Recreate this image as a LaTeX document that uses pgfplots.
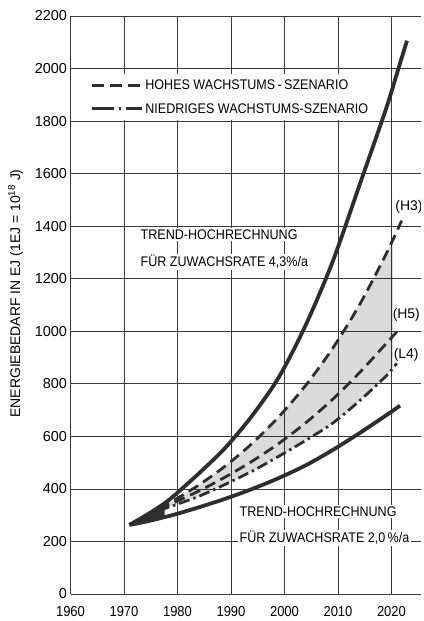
\documentclass[border=0pt]{standalone}
\usepackage{fontspec}
\setmainfont{Liberation Sans}
\newfontfamily\lettering[FakeStretch=0.9]{Liberation Sans}
\usepackage{pgfplots}
\pgfplotsset{compat=1.18}
\usepgfplotslibrary{fillbetween}
\newcommand\lt{\lettering\fontsize{14}{15}\selectfont}
\definecolor{ink}{HTML}{2E2E2E}
\definecolor{gridc}{HTML}{3A3A3A}

\pgfplotstableread{
x y
1971 263
1974 298
1977 337
1979 368
1984 459
1989 558
1994 680
1999 827
2004 1025
2009 1265
2014 1555
2019 1848
2021.3 2000
2022.9 2106
}\tabU
\pgfplotstableread{
x y
1971 263
1974 275
1979 300
1984 330
1989 363
1994 400
1999 442
2004 490
2009 548
2014 612
2019 680
2021.6 717
}\tabL
\pgfplotstableread{
x y
1976.5 330
1979 353
1984 415
1989 488
1994 574
1999 676
2004 795
2009 935
2014 1100
2019 1294
2021.9 1421
}\tabHthree
\pgfplotstableread{
x y
1976.5 326
1979 345
1984 392
1989 446
1994 506
1999 574
2004 652
2009 741
2014 842
2019 953
2021.3 1005
}\tabHfive
\pgfplotstableread{
x y
1976.5 318
1979 335
1984 372
1989 418
1994 468
1999 525
2004 585
2009 650
2014 735
2019 830
2021 878
}\tabLfour

\begin{document}
\begin{tikzpicture}
\begin{axis}[
  scale only axis, width=350.4bp, height=578bp,
  xmin=1960, xmax=2025.5, ymin=0, ymax=2200,
  axis lines=left, axis line style={gridc, line width=0.8bp, -},
  xtick={1960,1970,...,2020}, ytick={0,200,...,2200},
  major tick length=0pt,
  grid=major, major grid style={gridc, line width=0.7bp},
  /pgf/number format/1000 sep={},
  /pgf/number format/assume math mode=true,
  xticklabel style={font=\lettering\fontsize{14.5}{14}\selectfont, yshift=-9bp},
  yticklabel style={font=\fontsize{14.5}{14}\selectfont},
  ylabel={ENERGIEBEDARF IN EJ (1EJ = 10\textsuperscript{18} J)},
  ylabel style={font=\fontsize{14}{15}\selectfont, at={(axis description cs:-0.157,0.52)}, anchor=center},
  legend style={at={(axis cs:1963.64,1979)}, anchor=north west, draw=none, fill=white,
    inner xsep=0bp, inner ysep=4bp, row sep=10bp, font=\lt,
    nodes={inner sep=2bp, text depth=0pt}},
  legend cell align=left,
  legend image code/.code={\draw[#1] (0bp,0bp) -- (50bp,0bp);},
]
\addlegendimage{ink, line width=3.2bp, dash pattern=on 12bp off 6bp}
\addlegendentry{HOHES WACHSTUMS\,-\,SZENARIO}
\addlegendimage{ink, line width=3.2bp, dash pattern=on 22bp off 5bp on 2.5bp off 5bp}
\addlegendentry{NIEDRIGES WACHSTUMS-SZENARIO}

% invisible polyline copies for the filled areas
\addplot[draw=none, name path=Uf, forget plot] table {\tabU};
\addplot[draw=none, name path=Lf, forget plot] table {\tabL};
\addplot[draw=none, name path=H3f, forget plot] table {\tabHthree};
\addplot[draw=none, name path=L4f, forget plot] table {\tabLfour};

\addplot[fill=black, fill opacity=0.14, draw=none, forget plot] fill between[of=H3f and L4f, soft clip={domain=1976.5:2020.3}];
\addplot[fill=ink, draw=none, forget plot] fill between[of=Uf and Lf, soft clip={domain=1971:1977.6}];

\addplot[ink, line width=3.8bp, smooth, forget plot] table {\tabU};
\addplot[ink, line width=3.8bp, smooth, forget plot] table {\tabL};
\addplot[ink, line width=2.8bp, smooth, dash pattern=on 11bp off 6bp, forget plot] table {\tabHthree};
\addplot[ink, line width=2.8bp, smooth, dash pattern=on 11bp off 6bp, forget plot] table {\tabHfive};
\addplot[ink, line width=2.8bp, smooth, dash pattern=on 11bp off 4bp on 2.5bp off 4bp, forget plot] table {\tabLfour};

\node[anchor=west, fill=white, inner sep=1.5bp, font=\lt] at (axis cs:1972.8,1367) {TREND-HOCHRECHNUNG};
\node[anchor=west, fill=white, inner sep=1.5bp, font=\lt] at (axis cs:1972.8,1264) {FÜR ZUWACHSRATE 4,3\%/a};
\node[anchor=west, fill=white, inner sep=1.5bp, font=\lt] at (axis cs:1991.3,313) {TREND-HOCHRECHNUNG};
\node[anchor=west, fill=white, inner sep=1.5bp, font=\lt] at (axis cs:1991.3,213) {FÜR ZUWACHSRATE 2,0\,\%/a};

\node[anchor=west, inner sep=0bp, font=\fontsize{14}{15}\selectfont] at (axis cs:2020.7,1473) {(H3)};
\node[anchor=west, inner sep=0bp, font=\fontsize{14}{15}\selectfont] at (axis cs:2020.2,1062) {(H5)};
\node[anchor=west, inner sep=0bp, font=\fontsize{14}{15}\selectfont] at (axis cs:2020.4,910) {(L4)};
\end{axis}
\path (current axis.south west) +(-70.5bp,-27bp) (current axis.north east) +(3bp,16bp);
\end{tikzpicture}
\end{document}
